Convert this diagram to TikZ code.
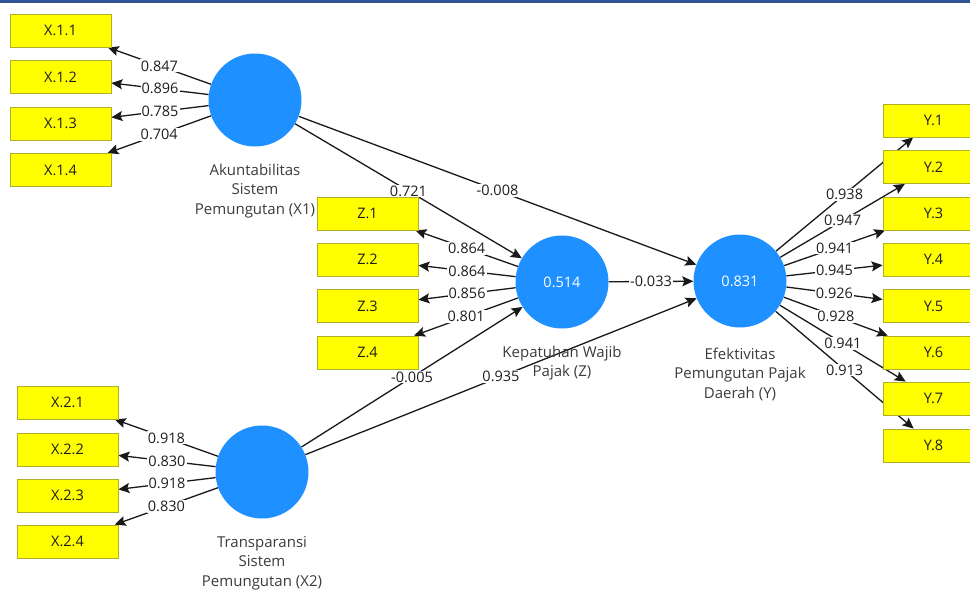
\documentclass[tikz,border=0pt]{standalone}
\usepackage{fontspec}
\setmainfont{Open Sans}
\usetikzlibrary{arrows.meta,backgrounds}
\definecolor{latentblue}{RGB}{30,144,255}
\definecolor{boxyellow}{RGB}{255,255,0}
\definecolor{boxedge}{RGB}{175,175,40}
\definecolor{topbar}{RGB}{47,85,151}
\definecolor{inktext}{RGB}{30,30,30}
\definecolor{nametext}{RGB}{60,60,60}
\begin{document}
\begin{tikzpicture}[x=1pt,y=-1pt,
  indicator/.style={draw=boxedge, line width=0.8pt, fill=boxyellow, minimum width=101pt, minimum height=33pt, inner sep=0pt, text=inktext, font=\fontsize{14.5}{16}\selectfont},
  latent/.style={circle, fill=latentblue, minimum size=93pt, inner sep=0pt, text=white, font=\fontsize{14.5}{16}\selectfont},
  lvname/.style={align=center, text=nametext, inner sep=0pt, font=\fontsize{15}{19.5}\selectfont},
  pathline/.style={draw=black!90, line width=1.3pt, -{Stealth[length=11pt,width=10pt,inset=2pt]}},
  coef/.style={fill=white, inner sep=1pt, text=inktext, font=\fontsize{14.5}{16}\selectfont, pos=0.5}
]
\useasboundingbox (0,0) rectangle (970,592);
\clip (0,0) rectangle (970,592);

% latent variables
\node[latent] (X1) at (255,100) {};
\node[latent] (Z) at (562,282) {0.514};
\node[latent] (Y) at (740,281) {0.831};
\node[latent] (X2) at (262,472) {};

\node[lvname] (X1name) at (255,191) {Akuntabilitas\\Sistem\\Pemungutan (X1)};
\node[lvname] (Zname) at (562,363) {Kepatuhan Wajib\\Pajak (Z)};
\node[lvname] (Yname) at (740,374) {Efektivitas\\Pemungutan Pajak\\Daerah (Y)};
\node[lvname] (X2name) at (262,563) {Transparansi\\Sistem\\Pemungutan (X2)};

% indicators X1
\node[indicator] (x11) at (60.5,30.5) {X.1.1};
\node[indicator] (x12) at (60.5,77) {X.1.2};
\node[indicator] (x13) at (60.5,123.5) {X.1.3};
\node[indicator] (x14) at (60.5,170) {X.1.4};
% indicators Z
\node[indicator] (z1) at (367.5,213.5) {Z.1};
\node[indicator] (z2) at (367.5,259.5) {Z.2};
\node[indicator] (z3) at (367.5,306) {Z.3};
\node[indicator] (z4) at (367.5,352.5) {Z.4};
% indicators X2
\node[indicator] (x21) at (67.5,402.5) {X.2.1};
\node[indicator] (x22) at (67.5,449.5) {X.2.2};
\node[indicator] (x23) at (67.5,495.5) {X.2.3};
\node[indicator] (x24) at (67.5,541.5) {X.2.4};
% indicators Y
\node[indicator] (y1) at (933.5,120.5) {Y.1};
\node[indicator] (y2) at (933.5,167) {Y.2};
\node[indicator] (y3) at (933.5,213.5) {Y.3};
\node[indicator] (y4) at (933.5,259.5) {Y.4};
\node[indicator] (y5) at (933.5,306) {Y.5};
\node[indicator] (y6) at (933.5,352.5) {Y.6};
\node[indicator] (y7) at (933.5,398.5) {Y.7};
\node[indicator] (y8) at (933.5,445.5) {Y.8};

\fill[topbar] (0,0) rectangle (970,3.3);

\begin{pgfonlayer}{background}
\fill[white] (0,0) rectangle (970,592);
% outer loadings X1
\draw[pathline] (X1) -- node[coef]{0.847} (x11);
\draw[pathline] (X1) -- node[coef]{0.896} (x12);
\draw[pathline] (X1) -- node[coef]{0.785} (x13);
\draw[pathline] (X1) -- node[coef]{0.704} (x14);
% outer loadings Z
\draw[pathline] (Z) -- node[coef]{0.864} (z1);
\draw[pathline] (Z) -- node[coef]{0.864} (z2);
\draw[pathline] (Z) -- node[coef]{0.856} (z3);
\draw[pathline] (Z) -- node[coef]{0.801} (z4);
% outer loadings X2
\draw[pathline] (X2) -- node[coef]{0.918} (x21);
\draw[pathline] (X2) -- node[coef]{0.830} (x22);
\draw[pathline] (X2) -- node[coef]{0.918} (x23);
\draw[pathline] (X2) -- node[coef]{0.830} (x24);
% outer loadings Y
\draw[pathline] (Y) -- node[coef]{0.938} (y1);
\draw[pathline] (Y) -- node[coef]{0.947} (y2);
\draw[pathline] (Y) -- node[coef]{0.941} (y3);
\draw[pathline] (Y) -- node[coef]{0.945} (y4);
\draw[pathline] (Y) -- node[coef]{0.926} (y5);
\draw[pathline] (Y) -- node[coef]{0.928} (y6);
\draw[pathline] (Y) -- node[coef]{0.941} (y7);
\draw[pathline] (Y) -- node[coef]{0.913} (y8);
% structural paths
\draw[pathline] (X1) -- node[coef]{0.721} (Z);
\draw[pathline] (X1) -- node[coef]{-0.008} (Y);
\draw[pathline] (Z) -- node[coef]{-0.033} (Y);
\draw[pathline] (X2) -- node[coef]{-0.005} (Z);
\draw[pathline] (X2) -- node[coef]{0.935} (Y);
\end{pgfonlayer}
\end{tikzpicture}
\end{document}
